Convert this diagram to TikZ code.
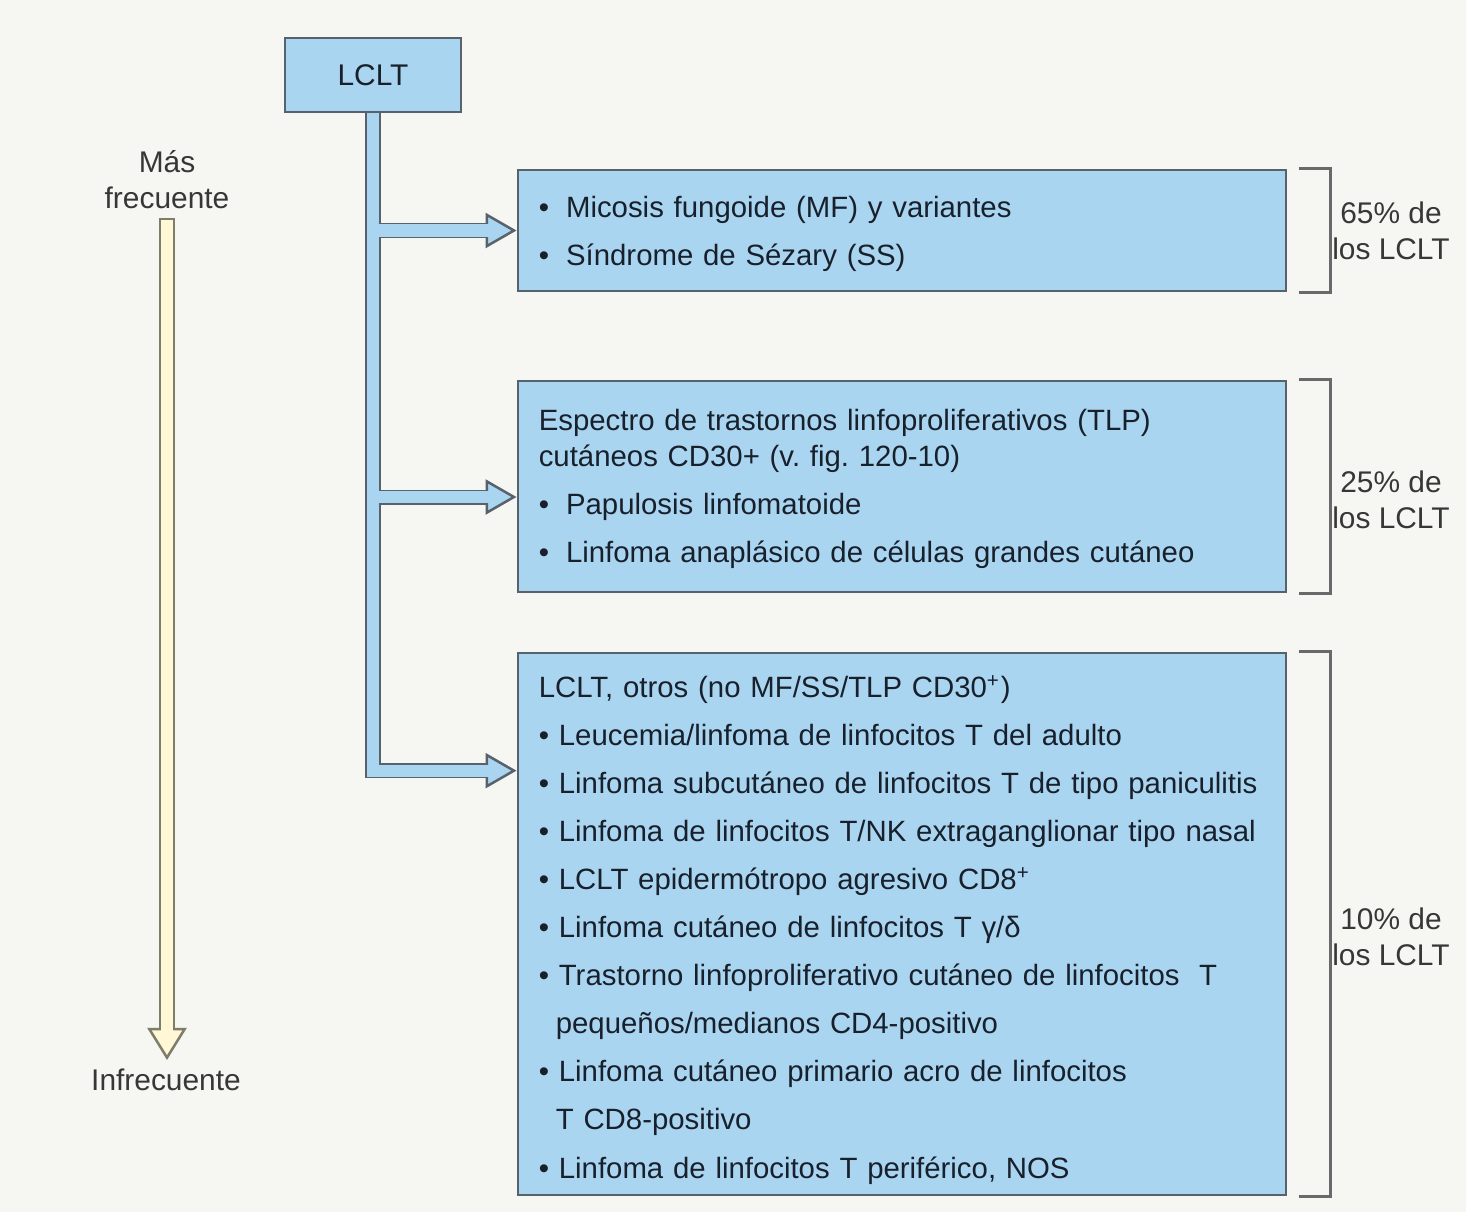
\documentclass[tikz,border=0pt]{standalone}
\usepackage{fontspec}
\setmainfont{Liberation Sans}
\usepackage{tikz}
\usetikzlibrary{arrows.meta,positioning,backgrounds}
\frenchspacing
\definecolor{bgpaper}{RGB}{246,246,242}
\definecolor{boxfill}{RGB}{170,213,240}
\definecolor{boxline}{RGB}{88,98,108}
\definecolor{ink}{RGB}{24,32,44}
\definecolor{labelink}{RGB}{55,55,55}
\definecolor{cream}{RGB}{255,247,214}
\definecolor{creamline}{RGB}{125,125,105}
\definecolor{bracketgray}{RGB}{105,105,105}
\newcommand{\bul}{\textbullet\hspace{1.7mm}}
\newcommand{\dotitem}{\textbullet\ }
\newcommand{\padtop}[1]{\rule{0pt}{#1}}
\tikzset{
  lcltbox/.style={draw=boxline, fill=boxfill, line width=0.25mm, text=ink, font=\fontsize{8.5}{13.66}\selectfont},
  listbox/.style={lcltbox, text width=7.26cm, inner xsep=2.1mm, inner ysep=1mm, align=left, font=\fontsize{8.35}{13.66}\selectfont},
  trunkout/.style={boxline, line width=1.5mm, -{Triangle[length=3.1mm,width=3.5mm,fill=boxfill,line width=0.25mm]}},
  trunkin/.style={boxfill, line width=1.2mm, shorten >=2.8mm},
  freqout/.style={creamline, line width=1.5mm, -{Triangle[length=3.2mm,width=3.9mm,fill=cream,line width=0.25mm]}},
  freqin/.style={cream, line width=1.2mm, shorten >=2.9mm},
  sidelabel/.style={text=labelink, align=center, inner sep=0pt, font=\fontsize{8.5}{10.24}\selectfont},
  bracket/.style={draw=bracketgray, line width=0.25mm}
}

\begin{document}
\begin{tikzpicture}[x=0.01cm, y=-0.01cm]
  \useasboundingbox (0,0) rectangle (1466,1212);
  % boxes
  \node[lcltbox, minimum width=1.76cm, minimum height=0.74cm] (lclt) at (373,75) {LCLT};
  \node[listbox, minimum height=1.21cm] (mf) at (902,230.5)
    {\padtop{7.9pt}\bul Micosis fungoide (MF) y variantes\\
     \bul Síndrome de Sézary (SS)};
  \node[listbox, minimum height=2.11cm] (tlp) at (902,486.5)
    {\padtop{7.3pt}Espectro de trastornos linfoproliferativos (TLP)\\[-3.42pt]
     cutáneos CD30+ (v. fig. 120-10)\\
     \bul Papulosis linfomatoide\\
     \bul Linfoma anaplásico de células grandes cutáneo};
  \node[listbox, minimum height=5.42cm] (otros) at (902,924)
    {\padtop{9.6pt}LCLT, otros (no MF/SS/TLP CD30\textsuperscript{+})\\
     \dotitem Leucemia/linfoma de linfocitos T del adulto\\
     \dotitem Linfoma subcutáneo de linfocitos T de tipo paniculitis\\
     \dotitem Linfoma de linfocitos T/NK extraganglionar tipo nasal\\
     \dotitem LCLT epidermótropo agresivo CD8\textsuperscript{+}\\
     \dotitem Linfoma cutáneo de linfocitos T γ/δ\\
     \dotitem Trastorno linfoproliferativo cutáneo de linfocitos\ \ T\\
     \hspace*{1.7mm}pequeños/medianos CD4-positivo\\
     \dotitem Linfoma cutáneo primario acro de linfocitos\\
     \hspace*{1.7mm}T CD8-positivo\\
     \dotitem Linfoma de linfocitos T periférico, NOS};

  % frequency scale
  \node[sidelabel] (mas) at (167,180) {Más\\frecuente};
  \node[sidelabel] (infre) at (166,1080) {Infrecuente};
  \coordinate (ftop) at (167,218);
  \coordinate (fbot) at (167,1060);

  % percentages
  \draw[bracket] ([xshift=1.2mm]mf.north east) -- ++(3.1mm,0) |- ([xshift=1.2mm]mf.south east);
  \draw[bracket] ([xshift=1.2mm]tlp.north east) -- ++(3.1mm,0) |- ([xshift=1.2mm]tlp.south east);
  \draw[bracket] ([xshift=1.2mm]otros.north east) -- ++(3.1mm,0) |- ([xshift=1.2mm]otros.south east);
  \node[sidelabel] (pmf) at (1391,231) {65\% de\\los LCLT};
  \node[sidelabel] (ptlp) at (1391,500) {25\% de\\los LCLT};
  \node[sidelabel] (potros) at (1391,937) {10\% de\\los LCLT};

  \begin{scope}[on background layer]
    \fill[bgpaper] (0,0) rectangle (1466,1212);
    \coordinate (tomf) at (mf.west);
    \coordinate (totlp) at ([yshift=-1.05mm]tlp.west);
    \coordinate (tootros) at ([yshift=-11.9mm]otros.north west);
    \foreach \dest in {tomf,totlp,tootros}
      \draw[trunkout] (lclt.south) |- (\dest);
    \foreach \dest in {tomf,totlp,tootros}
      \draw[trunkin] (lclt.south) |- (\dest);
    \draw[freqout] (ftop) -- (fbot);
    \draw[freqin] ([yshift=-0.15mm]ftop) -- (fbot);
  \end{scope}
\end{tikzpicture}
\end{document}
